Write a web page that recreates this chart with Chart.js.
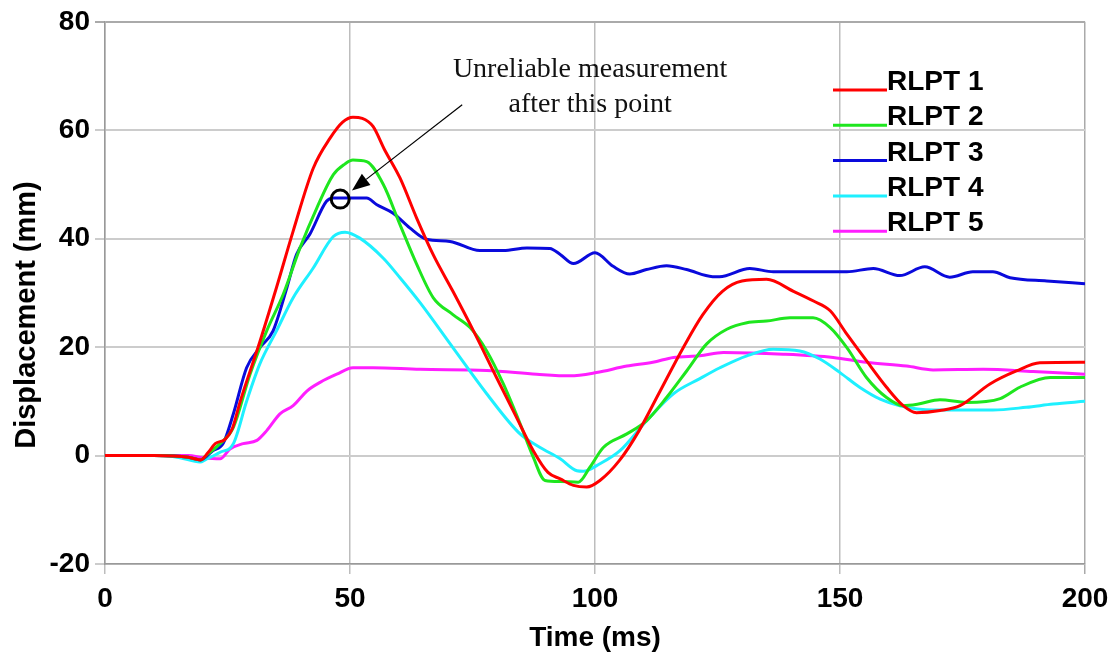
<!DOCTYPE html>
<html>
<head>
<meta charset="utf-8">
<script src="https://cdn.jsdelivr.net/npm/chart.js@4/dist/chart.umd.min.js"></script>
<style>
  body { margin: 0; background: #fff; }
</style>
</head>
<body>
<canvas id="chart" width="1120" height="663"></canvas>
<script>
// values
const labels = ["RLPT 1", "RLPT 2", "RLPT 3", "RLPT 4", "RLPT 5"];
const colors = ["#ff0000", "#1ee61e", "#0a0adc", "#1ef0ff", "#ff1eff"];

const rlpt1T = [0, 10, 17, 19.5, 21, 22.5, 24.5, 26, 27.6, 31.6, 35, 38.4, 42.5, 45.9, 48.5, 50.6, 52.5, 54.7, 57, 60.2, 63.6, 67, 71, 75.2, 79.9, 84, 87.4, 90.4, 92.9, 95.6, 98.3, 101, 105, 109, 113, 118, 122, 126, 130, 135, 140.5, 144.6, 148, 151.4, 155.4, 159.5, 162.9, 165.6, 170.4, 174.5, 180.6, 186, 190.8, 200];
const rlpt1V = [0, 0, -0.3, -0.8, 0.5, 2.2, 3, 5, 10, 21, 31, 41.4, 53, 58.5, 61.5, 62.4, 62.2, 60.7, 56.5, 51.2, 43.8, 37, 30.3, 23, 14.4, 7, 0.9, -3.1, -4.3, -5.5, -5.8, -4.6, -0.9, 4.6, 11.4, 19.9, 26, 30.3, 32.2, 32.5, 30.3, 28.5, 26.7, 22.4, 17.5, 12.6, 9.2, 7.9, 8.3, 9.2, 13.2, 15.6, 17.1, 17.2];

const rlpt2T = [0, 10, 17, 19.5, 21, 23.5, 26.2, 29.6, 33, 36.4, 39.8, 43.2, 46.6, 49, 50.6, 53.4, 56.8, 60.2, 63.6, 67, 71, 74.5, 77.9, 81.3, 84.7, 87.4, 89.8, 92.9, 96.6, 99, 101.7, 106.5, 110.5, 114.6, 118.7, 122.8, 126.9, 131, 135, 139.8, 144.5, 148, 151.4, 155.4, 159.5, 162.9, 166, 170.4, 175.8, 182.7, 186.7, 192.9, 200];
const rlpt2V = [0, 0, -0.3, -0.8, 0.3, 2.2, 5.2, 15, 23, 29.8, 38.3, 45.6, 51.8, 53.8, 54.5, 54.2, 50, 42.6, 35.3, 29.1, 26, 23.6, 19.3, 13.2, 5.9, -0.3, -4.6, -4.8, -4.9, -2.1, 1.5, 4, 6.4, 10.7, 15.6, 20.6, 23.3, 24.5, 24.8, 25.4, 25.4, 23.6, 19.9, 14.4, 10.7, 9.2, 9.5, 10.3, 9.8, 10.5, 12.6, 14.4, 14.4];

const rlpt3T = [0, 10, 17, 19.5, 22, 24.1, 26.2, 28.9, 31.6, 34.3, 37.1, 39.1, 41.8, 45.2, 46.6, 50, 53.4, 55.4, 58.8, 62.2, 65.6, 70.4, 76.5, 81.3, 86.1, 90.8, 92.9, 95.6, 100, 103.7, 107.1, 110.5, 114.6, 118.7, 124, 125.4, 131.6, 136.4, 151.4, 156.8, 162.2, 167.3, 172.4, 177.1, 181.2, 184.7, 192.2, 200];
const rlpt3V = [0, 0, -0.3, -0.8, 0.9, 2.2, 7.7, 16.2, 19.9, 23, 30.9, 37.1, 40.8, 46.9, 47.5, 47.5, 47.5, 46.3, 44.7, 42, 39.9, 39.5, 37.8, 37.8, 38.3, 38.2, 37.1, 35.4, 37.4, 34.9, 33.5, 34.3, 35, 34.3, 33, 33, 34.5, 33.9, 33.9, 34.5, 33.2, 34.8, 32.9, 33.9, 33.9, 32.8, 32.2, 31.7];

const rlpt4T = [0, 12, 15.3, 19.4, 20.6, 23.5, 26.2, 28.9, 31.6, 35, 38.4, 42.5, 46.6, 49, 52, 56.8, 60.2, 64.3, 71, 77.9, 84.7, 88.8, 92.9, 96.3, 97.6, 101, 105.1, 110.5, 116, 121.4, 125.5, 131, 136.4, 141.8, 145.9, 150, 154, 158.2, 162.2, 169, 181.2, 188, 193.5, 200];
const rlpt4V = [0, 0, -0.4, -1.2, -0.7, 0.6, 2.2, 10, 16.9, 23, 29.1, 34.6, 40.4, 41.2, 40.1, 36.4, 32.8, 28.2, 19.9, 11.4, 4, 1.5, -0.6, -2.8, -2.9, -1.5, 0.9, 6.4, 11.4, 14.2, 16.2, 18.4, 19.6, 19.3, 17.8, 15.3, 12.6, 10.4, 9.2, 8.4, 8.4, 8.9, 9.5, 10];

const rlpt5T = [0, 17, 20, 23.5, 25.5, 28.2, 31, 33, 35.7, 38.4, 41.2, 43.9, 47.3, 50.6, 54.7, 64.3, 77.9, 88.1, 94.9, 100.3, 106.5, 111.8, 116, 121.4, 126.2, 138.4, 148.6, 155.4, 163.6, 169, 179.2, 189.4, 200];
const rlpt5V = [0, 0, -0.4, -0.6, 1.2, 2.2, 2.8, 4.6, 7.7, 9.2, 11.9, 13.5, 15, 16.2, 16.2, 15.9, 15.7, 15, 14.7, 15.3, 16.5, 17.2, 18.1, 18.4, 19, 18.7, 18.1, 17.2, 16.5, 15.8, 15.9, 15.5, 15];

// annotation, in data units
const noteLines = ["Unreliable measurement", "after this point"];
const notePos = [[99, 71.1], [99, 64.7]];
const circlePt = [48, 47.3];
const arrowFrom = [72.9, 64.7];
const arrowTo = [50.4, 48.9];

const seriesT = [rlpt1T, rlpt2T, rlpt3T, rlpt4T, rlpt5T];
const seriesV = [rlpt1V, rlpt2V, rlpt3V, rlpt4V, rlpt5V];

const FONT = "'Liberation Sans', Arial, sans-serif";

const extras = {
  id: "extras",
  afterDraw(chart) {
    const ctx = chart.ctx;
    const x = chart.scales.x, y = chart.scales.y;
    ctx.save();

    // y axis title
    ctx.translate(27, 315);
    ctx.rotate(-Math.PI / 2);
    ctx.font = "bold 29px " + FONT;
    ctx.fillStyle = "#000";
    ctx.textAlign = "center";
    ctx.textBaseline = "middle";
    ctx.fillText("Displacement (mm)", 0, 0);
    ctx.setTransform(1, 0, 0, 1, 0, 0);

    // legend
    ctx.font = "bold 28px " + FONT;
    ctx.textAlign = "left";
    ctx.textBaseline = "alphabetic";
    labels.forEach((lab, i) => {
      const ly = 90 + i * 35.3;
      ctx.strokeStyle = colors[i];
      ctx.lineWidth = 3;
      ctx.beginPath();
      ctx.moveTo(833, ly);
      ctx.lineTo(887, ly);
      ctx.stroke();
      ctx.fillStyle = "#000";
      ctx.fillText(lab, 887, ly);
    });

    // note
    ctx.font = "28px 'Liberation Serif', 'Times New Roman', serif";
    ctx.textAlign = "center";
    ctx.textBaseline = "middle";
    ctx.fillStyle = "#111";
    noteLines.forEach((t, i) => {
      ctx.fillText(t, x.getPixelForValue(notePos[i][0]), y.getPixelForValue(notePos[i][1]));
    });

    // circle
    ctx.strokeStyle = "#000";
    ctx.lineWidth = 3;
    ctx.beginPath();
    ctx.arc(x.getPixelForValue(circlePt[0]), y.getPixelForValue(circlePt[1]), 9, 0, Math.PI * 2);
    ctx.stroke();

    // arrow
    const x0 = x.getPixelForValue(arrowFrom[0]), y0 = y.getPixelForValue(arrowFrom[1]);
    const x1 = x.getPixelForValue(arrowTo[0]), y1 = y.getPixelForValue(arrowTo[1]);
    const ang = Math.atan2(y1 - y0, x1 - x0);
    const hl = 18, hw = 7;
    const bx = x1 - hl * Math.cos(ang), by = y1 - hl * Math.sin(ang);
    ctx.lineWidth = 1.2;
    ctx.beginPath();
    ctx.moveTo(x0, y0);
    ctx.lineTo(bx, by);
    ctx.stroke();
    ctx.fillStyle = "#000";
    ctx.beginPath();
    ctx.moveTo(x1, y1);
    ctx.lineTo(bx + hw * Math.sin(ang), by - hw * Math.cos(ang));
    ctx.lineTo(bx - hw * Math.sin(ang), by + hw * Math.cos(ang));
    ctx.closePath();
    ctx.fill();

    ctx.restore();
  }
};

new Chart(document.getElementById("chart"), {
  type: "line",
  data: {
    datasets: labels.map((lab, i) => ({
      label: lab,
      data: seriesT[i].map((t, j) => ({ x: t, y: seriesV[i][j] })),
      borderColor: colors[i],
      borderWidth: 3,
      pointRadius: 0,
      fill: false,
      cubicInterpolationMode: "monotone",
    })),
  },
  options: {
    responsive: false,
    animation: false,
    layout: { padding: { top: 20, right: 35, left: 0, bottom: 0 } },
    plugins: {
      legend: { display: false },
      tooltip: { enabled: false },
    },
    scales: {
      x: {
        type: "linear",
        min: 0,
        max: 200,
        ticks: {
          stepSize: 50,
          maxRotation: 0,
          padding: 8,
          color: "#000",
          font: { family: FONT, size: 28, weight: "bold" },
        },
        grid: {
          color: (c) => (c.tick && c.tick.value === 200 ? "#aaaaaa" : "#bdbdbd"),
          lineWidth: 1.5,
          tickLength: 10,
        },
        border: { color: "#999999", width: 1.5 },
        title: {
          display: true,
          text: "Time (ms)",
          color: "#000",
          font: { family: FONT, size: 28, weight: "bold", lineHeight: 1 },
          padding: { top: 0, bottom: 11 },
        },
        afterFit: (s) => { s.height = 99; },
      },
      y: {
        min: -20,
        max: 80,
        ticks: {
          stepSize: 20,
          padding: 5,
          color: "#000",
          font: { family: FONT, size: 28, weight: "bold" },
        },
        grid: {
          color: (c) => (c.tick && c.tick.value === 80 ? "#aaaaaa" : "#cccccc"),
          lineWidth: 2,
          tickLength: 10,
        },
        border: { color: "#999999", width: 1.5 },
        afterFit: (s) => { s.width = 105; },
      },
    },
  },
  plugins: [extras],
});
</script>
</body>
</html>
